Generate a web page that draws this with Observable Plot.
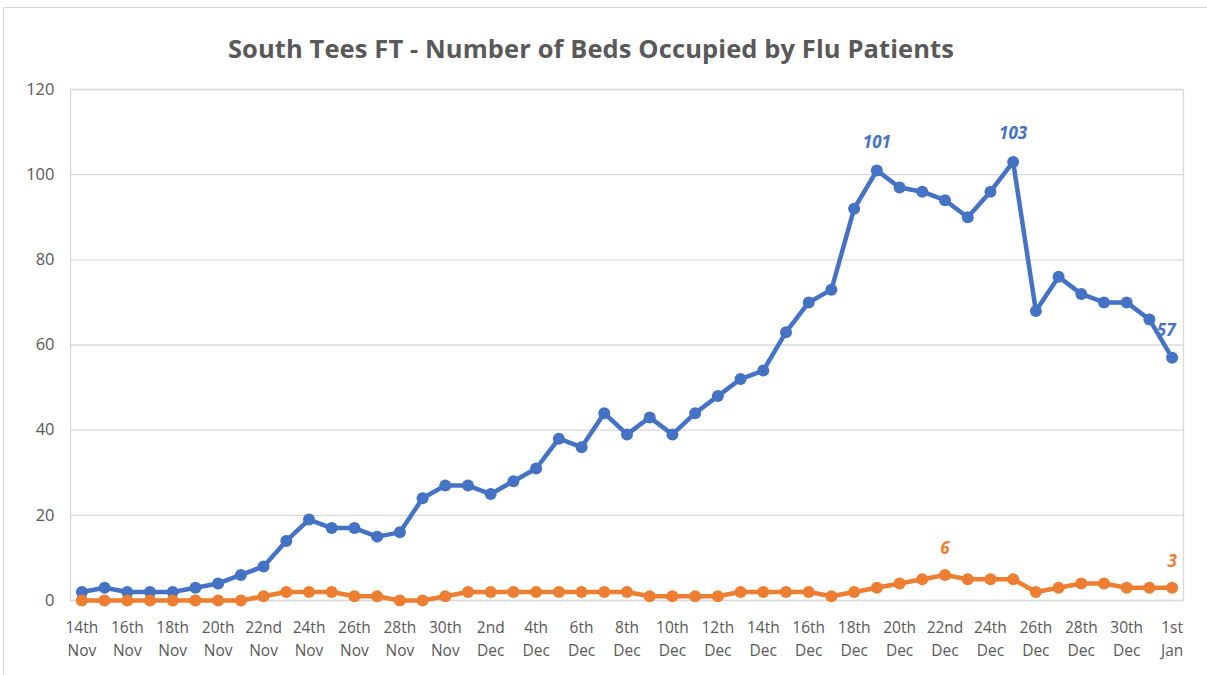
<!DOCTYPE html>
<html>
<head>
<meta charset="utf-8">
<script src="https://cdn.jsdelivr.net/npm/d3@7"></script>
<script src="https://cdn.jsdelivr.net/npm/@observablehq/plot@0.6"></script>
<style>
  html, body { margin: 0; padding: 0; background: #fff; }
  #wrap { position: relative; width: 1207px; height: 675px; overflow: hidden; font-family: "Open Sans", sans-serif; }
  #border { position: absolute; left: 3px; top: 7px; width: 1220px; height: 700px; border: 1px solid #d9d9d9; box-sizing: border-box; }
  #title { position: absolute; left: 0; top: 31px; width: 1182px; text-align: center; font-size: 25.5px; font-weight: 700; color: #595959; letter-spacing: 0.1px; }
  #chart { position: absolute; left: 0; top: 0; }
</style>
</head>
<body>
<div id="wrap">
  <div id="border"></div>
  <div id="chart"></div>
  <div id="title">South Tees FT - Number of Beds Occupied by Flu Patients</div>
</div>
<script>
const days = [
  "14th Nov","15th Nov","16th Nov","17th Nov","18th Nov","19th Nov","20th Nov","21st Nov","22nd Nov","23rd Nov",
  "24th Nov","25th Nov","26th Nov","27th Nov","28th Nov","29th Nov","30th Nov",
  "1st Dec","2nd Dec","3rd Dec","4th Dec","5th Dec","6th Dec","7th Dec","8th Dec","9th Dec","10th Dec",
  "11th Dec","12th Dec","13th Dec","14th Dec","15th Dec","16th Dec","17th Dec","18th Dec","19th Dec","20th Dec",
  "21st Dec","22nd Dec","23rd Dec","24th Dec","25th Dec","26th Dec","27th Dec","28th Dec","29th Dec","30th Dec",
  "31st Dec","1st Jan"
];
const bedsTotal = [
  2,3,2,2,2,3,4,6,8,14,
  19,17,17,15,16,24,27,
  27,25,28,31,38,36,44,39,43,39,
  44,48,52,54,63,70,73,92,101,97,
  96,94,90,96,103,68,76,72,70,70,
  66,57
];
const bedsOther = [
  0,0,0,0,0,0,0,0,1,2,
  2,2,1,1,0,0,1,
  2,2,2,2,2,2,2,2,1,1,
  1,1,2,2,2,2,1,2,3,4,
  5,6,5,5,5,2,3,4,4,3,
  3,3
];
const tickLabels = [
  "14th Nov","16th Nov","18th Nov","20th Nov","22nd Nov","24th Nov","26th Nov","28th Nov","30th Nov",
  "2nd Dec","4th Dec","6th Dec","8th Dec","10th Dec","12th Dec","14th Dec","16th Dec","18th Dec",
  "20th Dec","22nd Dec","24th Dec","26th Dec","28th Dec","30th Dec","1st Jan"
];
const yTicks = [0,20,40,60,80,100,120];
const labelsTotal = ["19th Dec","25th Dec","1st Jan"];
const labelsOther = ["22nd Dec","1st Jan"];

const blue = "#4472C4", orange = "#ED7D31";
const rowsA = days.map((d, i) => ({day: d, v: bedsTotal[i]}));
const rowsB = days.map((d, i) => ({day: d, v: bedsOther[i]}));
const lbl = {fontSize: 17, fontWeight: 700, fontStyle: "italic"};

const chart = Plot.plot({
  width: 1207,
  height: 675,
  marginLeft: 70,
  marginRight: 24,
  marginTop: 89,
  marginBottom: 75,
  style: {fontFamily: "Open Sans, sans-serif", background: "transparent"},
  x: {type: "point", domain: days, padding: 0.5},
  y: {domain: [0, 120]},
  marks: [
    Plot.ruleY(yTicks, {stroke: "#d9d9d9", strokeWidth: 1.3}),
    Plot.frame({stroke: "#d9d9d9", strokeWidth: 1.3}),
    Plot.axisY({ticks: yTicks, tickSize: 0, tickPadding: 16, fontSize: 16.5, fill: "#595959", label: null}),
    Plot.axisX({ticks: tickLabels, tickSize: 0, tickPadding: 16, fontSize: 15.5, fill: "#595959", lineHeight: 1.5,
      tickFormat: d => d.replace(" ", "\n"), label: null}),
    Plot.line(rowsA, {x: "day", y: "v", stroke: blue, strokeWidth: 4.5}),
    Plot.dot(rowsA, {x: "day", y: "v", fill: blue, r: 6}),
    Plot.line(rowsB, {x: "day", y: "v", stroke: orange, strokeWidth: 4.5}),
    Plot.dot(rowsB, {x: "day", y: "v", fill: orange, r: 6}),
    Plot.text(rowsA.filter(d => labelsTotal.includes(d.day) && d.day !== "1st Jan"), {x: "day", y: "v", text: d => String(d.v), dy: -28, fill: blue, ...lbl}),
    Plot.text(rowsA.filter(d => d.day === "1st Jan" && labelsTotal.includes(d.day)), {x: "day", y: "v", text: d => String(d.v), dy: -27, dx: -6, fill: blue, ...lbl}),
    Plot.text(rowsB.filter(d => labelsOther.includes(d.day)), {x: "day", y: "v", text: d => String(d.v), dy: -26, fill: orange, ...lbl})
  ]
});
document.getElementById("chart").appendChild(chart);
</script>
</body>
</html>
